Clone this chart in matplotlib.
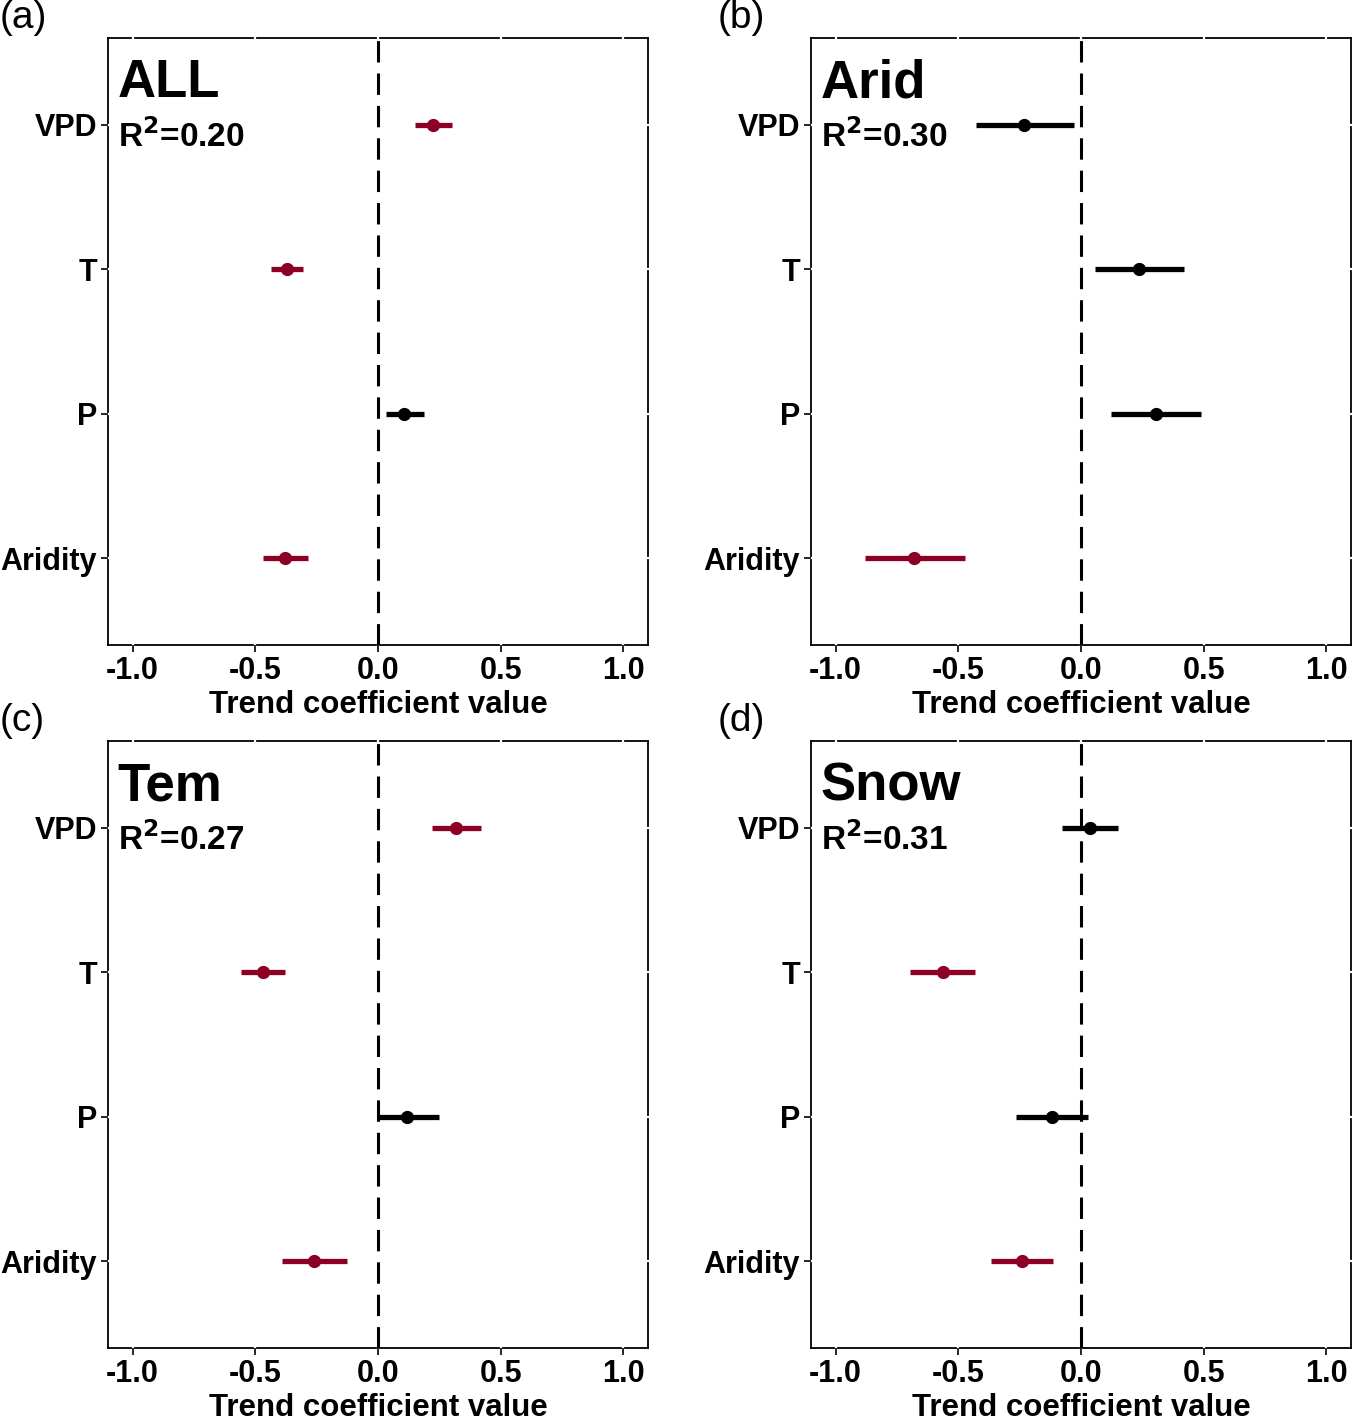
import matplotlib.pyplot as plt
import numpy as np

plt.rcParams['font.family'] = ['Liberation Sans', 'DejaVu Sans']

# variables, top to bottom
variables = ["VPD", "T", "P", "Aridity"]

# panel (a) ALL
all_est = [0.224, -0.370, 0.106, -0.378]
all_lo = [0.150, -0.435, 0.033, -0.467]
all_hi = [0.300, -0.305, 0.187, -0.285]
all_sig = [True, True, False, True]

# panel (b) Arid
arid_est = [-0.232, 0.236, 0.305, -0.679]
arid_lo = [-0.427, 0.057, 0.122, -0.878]
arid_hi = [-0.028, 0.419, 0.488, -0.472]
arid_sig = [False, False, False, True]

# panel (c) Tem
tem_est = [0.317, -0.467, 0.118, -0.260]
tem_lo = [0.220, -0.557, 0.000, -0.390]
tem_hi = [0.419, -0.378, 0.248, -0.126]
tem_sig = [True, True, False, True]

# panel (d) Snow
snow_est = [0.037, -0.561, -0.118, -0.240]
snow_lo = [-0.077, -0.695, -0.264, -0.366]
snow_hi = [0.150, -0.431, 0.028, -0.114]
snow_sig = [False, True, False, True]

names = ["ALL", "Arid", "Tem", "Snow"]
r2 = ["0.20", "0.30", "0.27", "0.31"]
letters = ["(a)", "(b)", "(c)", "(d)"]
panels = [(all_est, all_lo, all_hi, all_sig),
          (arid_est, arid_lo, arid_hi, arid_sig),
          (tem_est, tem_lo, tem_hi, tem_sig),
          (snow_est, snow_lo, snow_hi, snow_sig)]

red = '#8B0023'
W, H = 1352, 1416
fig = plt.figure(figsize=(W/100, H/100), dpi=100)

# axes boxes in pixels: left, top, and where the panel letter goes
boxes = [(108, 38), (811, 38), (108, 741), (811, 741)]
letter_x = [0, 718, 0, 718]
aw, ah = 540, 607

ypos = np.arange(len(variables), 0, -1)  # VPD=4 ... Aridity=1

for k, (est, lo, hi, sig) in enumerate(panels):
    left, top = boxes[k]
    ax = fig.add_axes([left/W, 1-(top+ah)/H, aw/W, ah/H])
    for i in range(len(variables)):
        c = red if sig[i] else 'black'
        ax.plot([lo[i], hi[i]], [ypos[i], ypos[i]], color=c, lw=3.8,
                solid_capstyle='butt', zorder=4)
        ax.plot(est[i], ypos[i], 'o', color=c, ms=8.5, zorder=5)
    ax.axvline(0, color='black', lw=2.2, ls=(0, (7, 3.6)), zorder=3)
    ax.set_xlim(-1.1, 1.1)
    ax.set_ylim(0.4, 4.6)
    ax.set_xticks([-1.0, -0.5, 0.0, 0.5, 1.0])
    ax.set_xticklabels(["-1.0", "-0.5", "0.0", "0.5", "1.0"])
    ax.set_yticks(ypos)
    ax.set_yticklabels(variables)
    ax.grid(True, color='white', lw=1.6)
    ax.set_axisbelow(False)
    for gl in ax.get_xgridlines() + ax.get_ygridlines():
        gl.set_clip_on(False)
    for s in ax.spines.values():
        s.set_linewidth(1.3)
        s.set_zorder(1)
    ax.tick_params(direction='out', length=5, width=1.2, labelsize=22,
                   pad=3)
    for lab in ax.get_xticklabels() + ax.get_yticklabels():
        lab.set_fontweight('bold')
    ax.set_xlabel("Trend coefficient value", fontsize=22.5, fontweight='bold',
                  labelpad=3)
    ax.text(0.018, 0.967, names[k], transform=ax.transAxes, fontsize=38,
            fontweight='bold', va='top', ha='left')
    ax.text(0.018, 0.866, "R$^\\mathbf{2}$=" + r2[k], transform=ax.transAxes,
            fontsize=24, fontweight='bold', va='top', ha='left')
    fig.text(letter_x[k]/W, 1-(top-38)/H, letters[k], fontsize=28,
             va='top', ha='left')

fig.savefig("out.png", dpi=100)
